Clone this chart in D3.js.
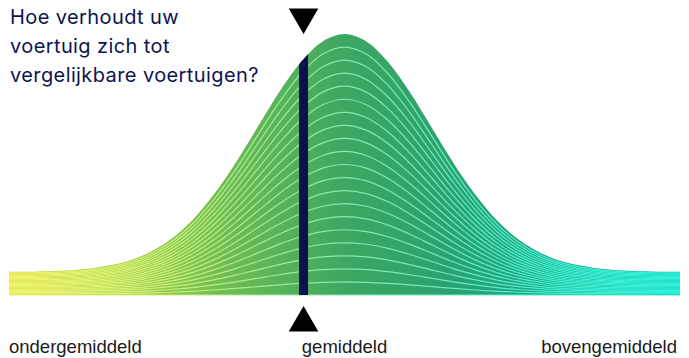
<!DOCTYPE html>
<html>
<head>
<meta charset="utf-8">
<script src="https://cdn.jsdelivr.net/npm/d3@7"></script>
<style>
  html, body { margin: 0; padding: 0; background: #fff; }
  svg { display: block; }
</style>
</head>
<body>
<div id="chart"></div>
<script>
// standardised score vs. relative frequency
const scores = [-3.85, -3.5, -3, -2.5, -2.25, -2, -1.75, -1.5, -1.25, -1, -0.75, -0.5, -0.25,
  0, 0.25, 0.5, 0.75, 1, 1.25, 1.5, 1.75, 2, 2.25, 2.5, 3, 3.5, 3.85];
const density = [0.001, 0.002, 0.011, 0.044, 0.08, 0.135, 0.216, 0.325, 0.458, 0.607, 0.755, 0.882, 0.969,
  1, 0.969, 0.882, 0.755, 0.607, 0.458, 0.325, 0.216, 0.135, 0.08, 0.044, 0.011, 0.002, 0.001];
const floorValue = 0.097;       // flat band under the curve
const bandCount = 20;
const vehicleScore = -0.47;     // where this vehicle sits
const axisLabels = ["ondergemiddeld", "gemiddeld", "bovengemiddeld"];
const axisLabelScores = [-3.85, 0, 3.85];
const titleLines = ["Hoe verhoudt uw", "voertuig zich tot", "vergelijkbare voertuigen?"];

const width = 689,
  height = 358,
  left = 9,
  right = 680,
  baseY = 295,
  topY = 34;

const points = scores.map((s, i) => ({ score: s, value: density[i] + floorValue }));

const x = d3.scaleLinear()
  .domain(d3.extent(scores))
  .range([left, right]);

const y = d3.scaleLinear()
  .domain([0, 1 + floorValue])
  .range([baseY, topY]);

const svg = d3.select("#chart")
  .append("svg")
  .attr("width", width)
  .attr("height", height);

const defs = svg.append("defs");

function gradient(id, stops) {
  const g = defs.append("linearGradient")
    .attr("id", id)
    .attr("gradientUnits", "userSpaceOnUse")
    .attr("x1", left).attr("x2", right)
    .attr("y1", 0).attr("y2", 0);
  g.selectAll("stop")
    .data(stops)
    .enter()
    .append("stop")
    .attr("offset", (d) => d[0])
    .attr("stop-color", (d) => d[1]);
}

gradient("fillGrad", [
  [0, "#c4d432"], [0.2, "#9ccb46"], [0.35, "#68b955"], [0.5, "#3da762"],
  [0.65, "#2ca170"], [0.8, "#1aa88a"], [1, "#0cb2a0"]
]);
gradient("lineGrad", [
  [0, "#f2f46a"], [0.2, "#d2f27a"], [0.35, "#a6ee8e"], [0.5, "#82eaaa"],
  [0.65, "#6aecbc"], [0.8, "#46efcf"], [1, "#2ef2dc"]
]);

const area = d3.area()
  .x((d) => x(d.score))
  .y0(baseY)
  .y1((d) => y(d.value))
  .curve(d3.curveCatmullRom);

defs.append("clipPath")
  .attr("id", "shapeClip")
  .append("path")
  .attr("d", area(points));

svg.append("path")
  .attr("d", area(points))
  .attr("fill", "url(#fillGrad)");

const line = d3.line()
  .x((d) => x(d.score))
  .y((d) => d.y)
  .curve(d3.curveCatmullRom);

svg.append("g")
  .attr("class", "bands")
  .selectAll("path")
  .data(d3.range(0, bandCount))
  .enter()
  .append("path")
  .attr("d", (k) => line(points.map((p) => ({ score: p.score, y: y(p.value * k / bandCount) }))))
  .attr("fill", "none")
  .attr("stroke", "url(#lineGrad)")
  .attr("stroke-width", 1.2);

// marker bar, cut off by the curve
svg.append("rect")
  .attr("x", x(vehicleScore) - 4.5)
  .attr("y", 0)
  .attr("width", 9)
  .attr("height", baseY)
  .attr("fill", "#0b1050")
  .attr("clip-path", "url(#shapeClip)");

const tri = d3.symbol().type(d3.symbolTriangle).size(380);
svg.append("path")
  .attr("d", tri())
  .attr("transform", `translate(${x(vehicleScore)},${17}) rotate(180)`)
  .attr("fill", "#000");
svg.append("path")
  .attr("d", tri())
  .attr("transform", `translate(${x(vehicleScore)},${323})`)
  .attr("fill", "#000");

svg.append("g")
  .selectAll("text")
  .data(axisLabels)
  .enter()
  .append("text")
  .attr("x", (d, i) => i === 0 ? left : i === 2 ? right - 3 : x(axisLabelScores[i]))
  .attr("y", 353)
  .attr("text-anchor", (d, i) => ["start", "middle", "end"][i])
  .attr("font-family", "'Liberation Sans', Arial, sans-serif")
  .attr("font-size", 18.5)
  .attr("fill", "#1a1a1a")
  .text((d) => d);

svg.append("g")
  .selectAll("text")
  .data(titleLines)
  .enter()
  .append("text")
  .attr("x", 10)
  .attr("y", (d, i) => 24 + i * 29)
  .attr("font-family", "Inter, sans-serif")
  .attr("font-size", 20)
  .attr("letter-spacing", 0.4)
  .attr("fill", "#0d1450")
  .text((d) => d);
</script>
</body>
</html>
